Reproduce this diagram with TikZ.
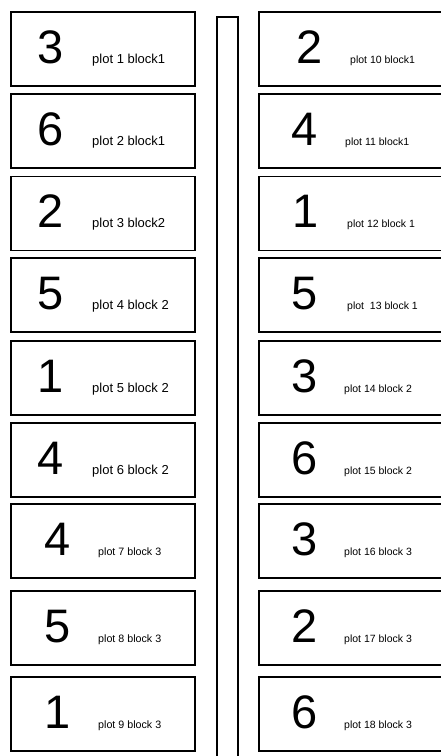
\documentclass[tikz,border=0pt]{standalone}
\usepackage{fontspec}
\setmainfont{Liberation Sans}

\begin{document}
\begin{tikzpicture}[
      x=1pt, y=-1pt,
      plotbox/.style={draw,line width=1.6pt,minimum width=184pt,minimum height=74pt,inner sep=0pt},
      num/.style={anchor=base,inner sep=0pt,font=\fontsize{47}{47}\selectfont},
      plotlbl/.style={anchor=base west,inner sep=0pt},
      strip/.style={draw,line width=1.3pt},
    ]
    \useasboundingbox (0,0) rectangle (441,756);

    % plots: number/box x/top/digit/digit x/label x/label size/label
    \foreach \n/\bx/\tp/\d/\dx/\lx/\fs/\txt in {
        1/103/12/3/51/92/13/plot 1 block1,
        2/103/94/6/51/92/13/plot 2 block1,
        3/103/176.5/2/51/92/13/plot 3 block2,
        4/103/258/5/51/92/13/plot 4 block 2,
        5/103/341/1/51/92/13/plot 5 block 2,
        6/103/423/4/51/92/13/plot 6 block 2,
        7/103/504/4/57.5/98/10.7/plot 7 block 3,
        8/103/591/5/57.5/98/10.7/plot 8 block 3,
        9/103/677/1/57.5/98/10.7/plot 9 block 3,
        10/351/12/2/310/350/10.5/plot 10 block1,
        11/351/94/4/305/345/10.5/plot 11 block1,
        12/351/176.5/1/306/347/10.5/plot 12 block 1,
        13/351/258/5/305/347/10.5/plot~ 13 block 1,
        14/351/341/3/305/344/10.5/plot 14 block 2,
        15/351/423/6/305/344/10.5/plot 15 block 2,
        16/351/504/3/305/344/10.5/plot 16 block 3,
        17/351/591/2/305/344/10.5/plot 17 block 3,
        18/351/677/6/305/344/10.5/plot 18 block 3} {
      \node[plotbox] (p\n) at (\bx,{\tp+37}) {};
      \node[num] (d\n) at (\dx,{\tp+51}) {\d};
      \node[plotlbl,font=\fontsize{\fs}{\fs}\selectfont] (l\n) at (\lx,{\tp+51}) {\txt};
    }

    % the path between the two columns
    \draw[strip] (217,765) -- (217,17) -- (238,17) -- (238,765);
  \end{tikzpicture}
\end{document}
